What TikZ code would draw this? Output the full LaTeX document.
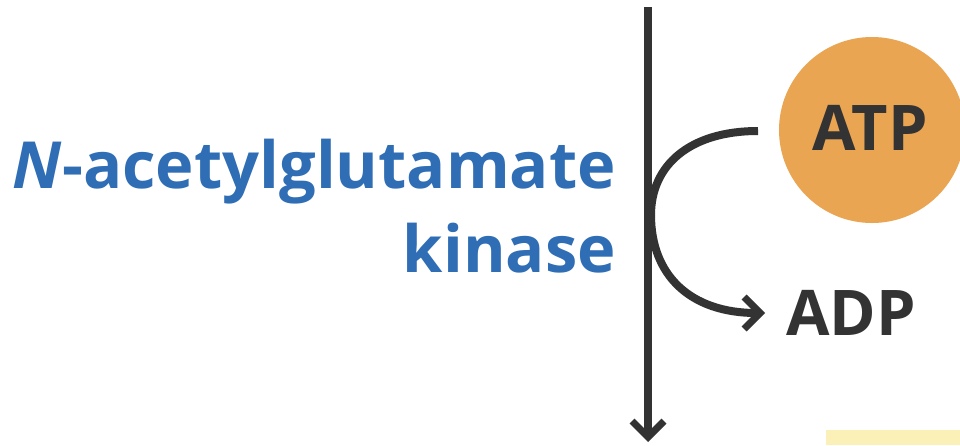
\documentclass[tikz,border=0pt]{standalone}
\usepackage{fontspec}
\setmainfont{Open Sans}
\usetikzlibrary{arrows.meta}
\definecolor{darkline}{HTML}{333333}
\definecolor{atporange}{HTML}{E9A552}
\definecolor{kblue}{HTML}{2F6DB5}
\definecolor{boxyellow}{HTML}{FBF0B8}
\begin{document}
\begin{tikzpicture}[x=1pt,y=-1pt,
  conn/.style={draw=darkline,line width=8pt},
  tipbarb/.style={-{Straight Barb[length=16pt,width=32pt,line width=7pt]}},
  lbl/.style={font=\fontsize{63}{63}\selectfont\bfseries, text=darkline, inner sep=0pt},
  enzlbl/.style={font=\fontsize{65}{84}\selectfont\bfseries, text=kblue, inner sep=0pt, align=right}]
\useasboundingbox (0,0) rectangle (960,445);
\fill[white] (0,0) rectangle (960,445);
\fill[boxyellow] (826,430) rectangle (960,445);
\node[circle, fill=atporange, minimum size=186pt, inner sep=0pt] (atp) at (872,130) {};
\node[lbl, anchor=base] (atptext) at (870,150) {ATP};
\node[lbl, anchor=base west] (adp) at (786,335) {ADP};
\node[enzlbl, anchor=base east] (enz) at (616,272) {\textit{N}-acetylglutamate\\kinase};
\coordinate (top) at (648,7);
\coordinate (bottom) at (648,442);
\coordinate (atpout) at (758,131);
\coordinate (adpin) at (765,313);
\draw[conn, tipbarb] (top) -- (bottom);
\draw[conn, tipbarb] (atpout) .. controls (690,131) and (651,165) .. (651,215)
  .. controls (651,275) and (690,313) .. (adpin);
\end{tikzpicture}
\end{document}
